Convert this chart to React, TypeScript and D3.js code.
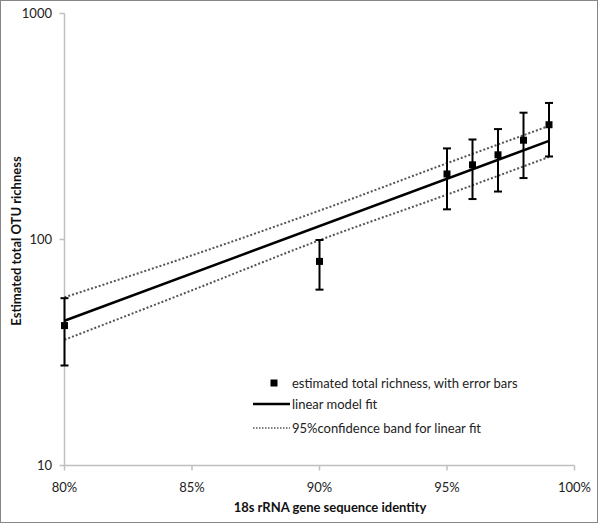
import React from "react";
import * as d3 from "d3";

const identity = [0.8, 0.9, 0.95, 0.96, 0.97, 0.98, 0.99];
const richness = [41.6, 80, 195, 214, 237, 275, 322];
const errLow = [27.7, 60, 136, 151, 163, 187, 233];
const errHigh = [55, 99.5, 253, 277, 308, 364, 402];

const fitX = [0.8, 0.99];
const fitY = [43.7, 273];

const ciX = [0.8, 0.85, 0.9, 0.95, 0.99];
const ciUpper = [55.5, 85.1, 134.2, 217.5, 318];
const ciLower = [36, 59.6, 99.3, 158, 232];

const xTicks = [0.8, 0.85, 0.9, 0.95, 1.0];
const yTicks = [10, 100, 1000];

const legendLabels = [
  "estimated total richness, with error bars",
  "linear model fit",
  "95%confidence band for linear fit",
];

const W = 600;
const H = 524;
const FONT = "Lato, 'Open Sans', sans-serif";

export default function App() {
  const x = d3.scaleLinear().domain([0.8, 1.0]).range([64.5, 574.5]);
  const y = d3.scaleLog().domain([10, 1000]).range([465.5, 13.5]);
  const line = d3
    .line<[number, number]>()
    .x((d) => x(d[0]))
    .y((d) => y(d[1]));
  const smooth = d3
    .line<[number, number]>()
    .x((d) => x(d[0]))
    .y((d) => y(d[1]))
    .curve(d3.curveMonotoneX);
  const fmt = d3.format(".0%");

  const fitPts: [number, number][] = fitX.map((v, i) => [v, fitY[i]]);
  const upPts: [number, number][] = ciX.map((v, i) => [v, ciUpper[i]]);
  const loPts: [number, number][] = ciX.map((v, i) => [v, ciLower[i]]);

  const axisColor = "#bfbfbf";
  const [x0, x1] = x.range();
  const [yb, yt] = y.range();

  return (
    <svg
      width={W}
      height={H}
      style={{ position: "absolute", left: 0, top: 0, background: "#fff" }}
      fontFamily={FONT}
    >
      <rect x={0.5} y={0.5} width={W - 3} height={H - 2} fill="#fff" stroke="#868686" strokeWidth={1} />

      {/* axes */}
      <line x1={x0} x2={x0} y1={yt} y2={yb} stroke={axisColor} strokeWidth={1.5} />
      <line x1={x0} x2={x1} y1={yb} y2={yb} stroke={axisColor} strokeWidth={1.5} />
      {yTicks.map((t) => (
        <g key={"y" + t}>
          <line x1={x0 - 5} x2={x0} y1={y(t)} y2={y(t)} stroke={axisColor} strokeWidth={1.5} />
          <text x={52} y={y(t)} dy="0.35em" textAnchor="end" fontSize={13} fill="#222">
            {t}
          </text>
        </g>
      ))}
      {xTicks.map((t) => (
        <g key={"x" + t}>
          <line x1={x(t)} x2={x(t)} y1={yb} y2={yb + 5} stroke={axisColor} strokeWidth={1.5} />
          <text x={x(t)} y={492} textAnchor="middle" fontSize={13} fill="#222">
            {fmt(t)}
          </text>
        </g>
      ))}

      {/* confidence band */}
      <path d={smooth(upPts) || ""} fill="none" stroke="#555" strokeWidth={2} strokeDasharray="2,2" />
      <path d={smooth(loPts) || ""} fill="none" stroke="#555" strokeWidth={2} strokeDasharray="2,2" />
      {/* fit */}
      <path d={line(fitPts) || ""} fill="none" stroke="#000" strokeWidth={2.5} />

      {/* error bars and points */}
      {identity.map((v, i) => (
        <g key={"p" + i}>
          <line x1={x(v)} x2={x(v)} y1={y(errLow[i])} y2={y(errHigh[i])} stroke="#000" strokeWidth={2} />
          <line x1={x(v) - 4} x2={x(v) + 4} y1={y(errLow[i])} y2={y(errLow[i])} stroke="#000" strokeWidth={2} />
          <line x1={x(v) - 4} x2={x(v) + 4} y1={y(errHigh[i])} y2={y(errHigh[i])} stroke="#000" strokeWidth={2} />
          <rect x={x(v) - 3.5} y={y(richness[i]) - 3.5} width={7} height={7} fill="#000" />
        </g>
      ))}

      {/* legend */}
      <rect x={270.5} y={379.5} width={7} height={7} fill="#000" />
      <text x={292} y={383} dy="0.35em" fontSize={13} fill="#222">{legendLabels[0]}</text>
      <line x1={253} x2={290} y1={404} y2={404} stroke="#000" strokeWidth={2.5} />
      <text x={292} y={404} dy="0.35em" fontSize={13} fill="#222">{legendLabels[1]}</text>
      <line x1={253} x2={290} y1={428} y2={428} stroke="#555" strokeWidth={1.5} strokeDasharray="1.5,1.5" />
      <text x={292} y={428} dy="0.35em" fontSize={13} fill="#222">{legendLabels[2]}</text>

      {/* axis titles */}
      <text x={330} y={512} textAnchor="middle" fontSize={13} fontWeight="bold" fill="#111">
        18s rRNA gene sequence identity
      </text>
      <text
        transform={`translate(21, 241) rotate(-90)`}
        textAnchor="middle"
        fontSize={13}
        fontWeight="bold"
        fill="#111"
      >
        Estimated total OTU richness
      </text>
    </svg>
  );
}
